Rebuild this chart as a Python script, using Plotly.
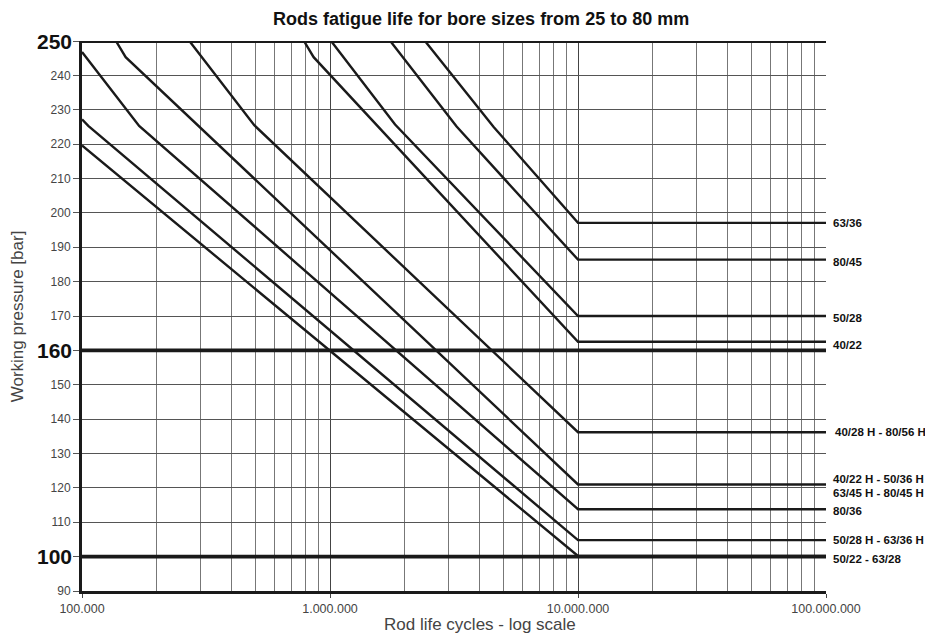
import plotly.graph_objects as go

# ---- data ----
series_names = ["50/22 - 63/28", "50/28 H - 63/36 H", "80/36",
                "40/22 H - 50/36 H", "40/28 H - 80/56 H", "40/22",
                "50/28", "80/45", "63/36"]
series_x = [
    [1e5, 1e7, 1e8],
    [1e5, 106000, 1e7, 1e8],
    [1e5, 170000, 1e7, 1e8],
    [137000, 150000, 1e7, 1e8],
    [271000, 495000, 1e7, 1e8],
    [785000, 859000, 1e7, 1e8],
    [1010000, 1830000, 1e7, 1e8],
    [1750000, 3240000, 1e7, 1e8],
    [2415000, 4570000, 1e7, 1e8],
]
series_y = [
    [219.6, 100.2, 100.2],
    [227.2, 225.3, 104.8, 104.8],
    [246.8, 225.3, 113.8, 113.8],
    [250, 245.3, 121.0, 121.0],
    [250, 225.5, 136.2, 136.2],
    [250, 245.3, 162.5, 162.5],
    [250, 225.7, 170.0, 170.0],
    [250, 225.1, 186.4, 186.4],
    [250, 225.0, 197.1, 197.1],
]
# right-hand labels and their heights (bar)
label_texts = ["63/36", "80/45", "50/28", "40/22", "40/28 H - 80/56 H",
               "40/22 H - 50/36 H", "63/45 H - 80/45 H", "80/36",
               "50/28 H - 63/36 H", "50/22 - 63/28"]
label_y = [197.2, 185.8, 169.3, 161.5, 136.2, 122.5, 118.4, 113.3, 104.7, 99.3]
label_indent = [0, 0, 0, 0, 2, 0, 0, 0, 0, 0]

ref_levels = [250, 160, 100]
y_ticks = list(range(90, 251, 10))
x_major = [1e5, 1e6, 1e7, 1e8]
x_major_text = ["100.000", "1.000.000", "10.000.000", "100.000.000"]
x_minor = [m * 10 ** k for k in range(5, 8) for m in range(2, 10)]

FONT = "Liberation Sans, Arial, Helvetica, sans-serif"

fig = go.Figure()

# thick reference levels
for lv in ref_levels:
    fig.add_trace(go.Scatter(x=[x_major[0], x_major[-1]], y=[lv, lv], mode="lines",
                             line=dict(color="#1a1a1a", width=3.8), hoverinfo="skip",
                             showlegend=False))

for name, xs, ys in zip(series_names, series_x, series_y):
    fig.add_trace(go.Scatter(x=xs, y=ys, mode="lines", name=name,
                             line=dict(color="#1a1a1a", width=2.4),
                             showlegend=False))

annotations = []
for t, yv, ind in zip(label_texts, label_y, label_indent):
    annotations.append(dict(x=1, xref="paper", y=yv, yref="y", text="<b>%s</b>" % t,
                            showarrow=False, xanchor="left", yanchor="middle",
                            xshift=5 + ind, font=dict(family=FONT, size=11.5, color="#111")))

y_ticktext = []
for v in y_ticks:
    if v in ref_levels:
        y_ticktext.append("")
        annotations.append(dict(x=0, xref="paper", y=v, yref="y", text="<b>%d</b>" % v,
                                showarrow=False, xanchor="right", yanchor="middle",
                                xshift=-8, font=dict(family=FONT, size=21, color="#111")))
    else:
        y_ticktext.append(str(v))

annotations.append(dict(x=0.535, xref="paper", y=-0.0618, yref="paper",
                        text="Rod life cycles - log scale", showarrow=False,
                        xanchor="center", yanchor="middle",
                        font=dict(family=FONT, size=17, color="#444")))
annotations.append(dict(x=-0.087, xref="paper", y=0.5, yref="paper",
                        text="Working pressure [bar]", showarrow=False, textangle=-90,
                        xanchor="center", yanchor="middle",
                        font=dict(family=FONT, size=17, color="#444")))

fig.update_layout(
    width=925, height=629,
    margin=dict(l=74, r=107, t=33, b=46),
    paper_bgcolor="white", plot_bgcolor="white",
    title=dict(text="<b>Rods fatigue life for bore sizes from 25 to 80 mm</b>",
               x=0.5115, xref="container", xanchor="center",
               y=0.9833, yref="container", yanchor="middle",
               font=dict(family=FONT, size=18, color="#111")),
    annotations=annotations,
    xaxis=dict(type="log", range=[5, 8], tickvals=x_major, ticktext=x_major_text,
               tickfont=dict(family=FONT, size=12.5, color="#444"),
               ticks="outside", ticklen=4, tickcolor="#444", tickwidth=1,
               showgrid=True, gridcolor="#444", gridwidth=1,
               minor=dict(tickvals=x_minor, showgrid=True, gridcolor="#777",
                          gridwidth=1, ticks=""),
               showline=True, linecolor="#1a1a1a", linewidth=3,
               zeroline=False, fixedrange=True),
    yaxis=dict(range=[90, 250], tickvals=y_ticks, ticktext=y_ticktext,
               tickfont=dict(family=FONT, size=12, color="#444"),
               ticks="outside", ticklen=6, tickcolor="#555", tickwidth=1,
               showgrid=True, gridcolor="#555", gridwidth=1,
               showline=True, linecolor="#1a1a1a", linewidth=3,
               zeroline=False, fixedrange=True),
)

fig.write_html("out.html")
